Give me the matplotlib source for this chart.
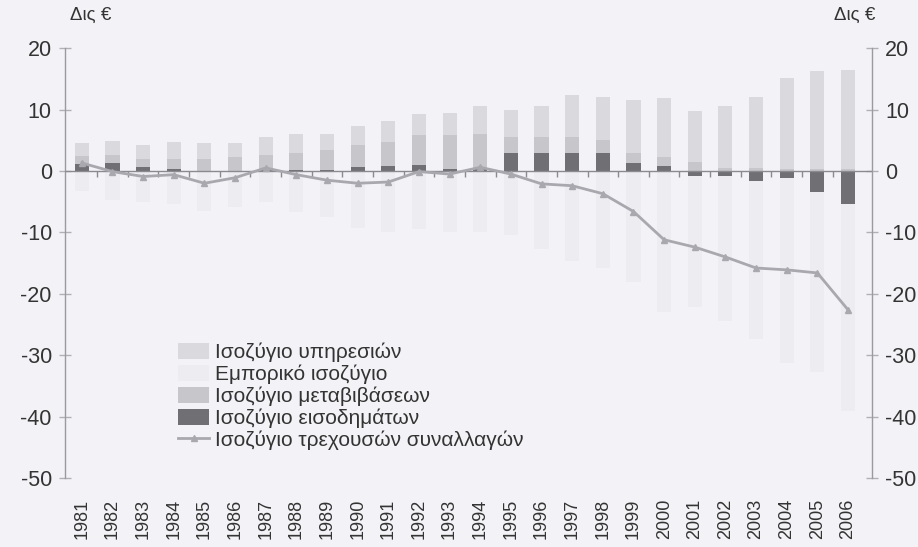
import numpy as np
import matplotlib
matplotlib.use("Agg")
from matplotlib import pyplot as plt

plt.rcParams['font.family'] = ['Liberation Sans', 'DejaVu Sans']
plt.rcParams['axes.unicode_minus'] = False

years = list(range(1981, 2007))

# Δις €
services  = [2.0, 2.2, 2.2, 2.7, 2.5, 2.3, 2.9, 3.1, 2.6, 3.1, 3.5, 3.5, 3.7, 4.4,
             4.5, 5.1, 6.8, 7.1, 8.6, 9.6, 8.3, 10.0, 11.5, 14.9, 15.9, 16.1]
transfers = [1.3, 1.3, 1.3, 1.7, 2.0, 2.2, 2.5, 2.8, 3.2, 3.6, 3.9, 4.8, 5.5, 5.8,
             2.6, 2.6, 2.5, 2.0, 1.6, 1.5, 1.4, 0.5, 0.5, 0.3, 0.3, 0.3]
income    = [1.2, 1.3, 0.7, 0.3, 0.0, -0.2, 0.1, 0.2, 0.2, 0.6, 0.8, 1.0, 0.3, 0.3,
             2.9, 2.9, 3.0, 3.0, 1.3, 0.8, -0.8, -0.8, -1.7, -1.2, -3.5, -5.3]
trade     = [-3.2, -4.8, -5.1, -5.3, -6.5, -5.6, -5.0, -6.7, -7.5, -9.3, -10.0, -9.4,
             -10.0, -9.9, -10.5, -12.7, -14.7, -15.8, -18.1, -23.0, -21.3, -23.7,
             -25.6, -30.1, -29.3, -33.7]
current   = [1.3, -0.1, -0.9, -0.6, -2.0, -1.1, 0.5, -0.6, -1.5, -2.0, -1.8, -0.1,
             -0.5, 0.6, -0.5, -2.1, -2.4, -3.7, -6.6, -11.2, -12.4, -14.0, -15.8,
             -16.1, -16.6, -22.6]

BG = '#f3f3f7'
TXT = '#333333'

fig = plt.figure(figsize=(9.18, 5.47), dpi=100, facecolor=BG)
ax = fig.add_axes([0.0708, 0.126, 0.879, 0.786], facecolor=BG)

x = np.arange(len(years))
w = 0.46

# stacked columns, negatives stacked downward separately
series = [
    (income,    '#707074', 'Ισοζύγιο εισοδημάτων'),
    (transfers, '#c6c6cb', 'Ισοζύγιο μεταβιβάσεων'),
    (trade,     '#ececf1', 'Εμπορικό ισοζύγιο'),
    (services,  '#d9d9de', 'Ισοζύγιο υπηρεσιών'),
]
pos = np.zeros(len(years))
neg = np.zeros(len(years))
handles = {}
for vals, col, lab in series:
    v = np.array(vals)
    bottom = np.where(v >= 0, pos, neg)
    b = ax.bar(x, v, w, bottom=bottom, color=col, edgecolor='none', label=lab, zorder=2)
    handles[lab] = b
    pos = pos + np.clip(v, 0, None)
    neg = neg + np.clip(v, None, 0)

ln, = ax.plot(x, current, color='#a8a8ae', lw=2, marker='^', ms=4,
              label='Ισοζύγιο τρεχουσών συναλλαγών', zorder=4)

ax.set_xlim(-0.55, len(years) - 0.22)
ax.set_ylim(-50, 20)
ax.set_yticks(range(-50, 21, 10))

# zero line acting as category axis
for s in ['top', 'bottom']:
    ax.spines[s].set_visible(False)
for s in ['left', 'right']:
    ax.spines[s].set_color('#9a9aa0')
    ax.spines[s].set_linewidth(1)
ax.axhline(0, color='#8a8a90', lw=1, zorder=3)
ax.vlines(x[:-1] + 0.5, -0.9, 0, color='#8a8a90', lw=1, zorder=3)

ax.tick_params(axis='y', which='both', left=True, right=True, labelleft=True,
               labelright=True, direction='inout', length=9, width=1,
               color='#b0b0b6', labelsize=15.5, labelcolor=TXT, pad=5)
ax.set_xticks(x)
ax.set_xticklabels([str(y) for y in years], rotation=90, fontsize=13, color=TXT)
ax.tick_params(axis='x', length=0, pad=15)

fig.text(0.076, 0.972, 'Δις €', fontsize=13.5, color=TXT, ha='left', va='center')
fig.text(0.909, 0.972, 'Δις €', fontsize=13.5, color=TXT, ha='left', va='center')

order = ['Ισοζύγιο υπηρεσιών', 'Εμπορικό ισοζύγιο', 'Ισοζύγιο μεταβιβάσεων',
         'Ισοζύγιο εισοδημάτων']
leg = ax.legend([handles[k] for k in order] + [ln], order + [ln.get_label()],
                loc='upper left', bbox_to_anchor=(0.13, 0.335), frameon=False,
                fontsize=15, handlelength=1.5, handleheight=0.8,
                handletextpad=0.25, labelspacing=0.12, borderaxespad=0)
for t in leg.get_texts():
    t.set_color(TXT)

fig.savefig('out.png', dpi=100, facecolor=BG)
